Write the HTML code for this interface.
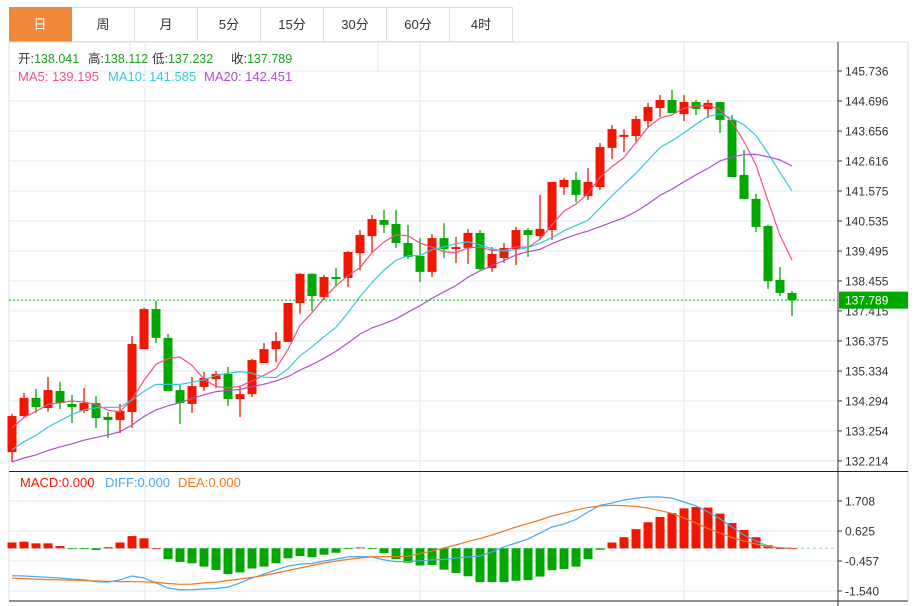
<!DOCTYPE html>
<html><head><meta charset="utf-8">
<style>
body{margin:0;background:#fff;font-family:"Liberation Sans","Noto Sans CJK SC",sans-serif;}
#wrap{position:relative;width:918px;height:606px;overflow:hidden;}
.tab{position:absolute;top:7px;height:35px;width:62px;border:1px solid #ddd;border-left:none;box-sizing:border-box;text-align:center;line-height:34px;font-size:13px;color:#333;background:#fff;}
.tab.on{background:#f0883a;color:#fff;border-color:#f0883a;}
svg{position:absolute;left:0;top:0;}
</style></head><body>
<div id="wrap">
<div class="tab on" style="left:9px;width:63px">日</div>
<div class="tab" style="left:72px;width:63px">周</div>
<div class="tab" style="left:135px;width:63px">月</div>
<div class="tab" style="left:198px;width:63px">5分</div>
<div class="tab" style="left:261px;width:63px">15分</div>
<div class="tab" style="left:324px;width:63px">30分</div>
<div class="tab" style="left:387px;width:63px">60分</div>
<div class="tab" style="left:450px;width:63px">4时</div>
<svg id="chart" width="918" height="606"></svg>
</div>
<script>
const opens=[132.52,133.77,134.40,134.05,134.64,134.19,133.95,134.22,133.74,133.63,133.91,136.09,137.48,136.48,134.67,134.19,134.78,135.05,135.23,134.36,134.53,135.61,136.09,136.34,137.69,138.70,137.90,138.59,138.56,139.42,140.01,140.57,140.43,139.77,139.32,138.77,139.94,139.56,139.60,140.12,138.90,139.25,139.56,140.22,140.01,140.22,141.71,141.96,141.40,141.71,143.07,143.45,143.48,144.00,144.45,144.73,144.24,144.66,144.42,144.66,144.04,142.13,141.30,140.36,138.49,138.04];
const highs=[133.84,134.57,134.71,135.12,134.95,134.50,134.74,134.46,133.91,134.19,136.55,137.52,137.76,136.62,134.88,135.12,135.30,135.33,135.47,134.81,135.75,136.30,136.68,137.69,138.73,138.73,138.66,138.90,139.49,140.22,140.74,140.92,140.92,140.40,139.94,140.08,140.46,139.98,140.26,140.22,139.63,139.77,140.33,140.29,141.44,141.89,142.03,142.23,142.37,143.24,143.86,143.72,144.18,144.63,144.90,145.08,144.90,144.73,144.73,144.66,144.21,143.00,141.47,140.40,138.94,138.11];
const lows=[132.18,133.74,133.88,133.91,134.01,133.53,133.88,133.36,133.01,133.18,133.36,136.09,136.30,134.64,133.49,133.88,134.64,134.74,134.12,133.74,134.43,135.61,135.64,136.34,137.31,137.41,137.79,138.25,138.25,138.83,139.46,140.12,139.60,139.22,138.42,138.59,139.25,139.08,139.04,138.83,138.77,139.08,139.01,139.29,139.88,139.88,141.44,141.19,141.26,141.61,142.68,142.93,143.27,143.76,144.14,144.28,144.00,144.21,144.11,143.59,142.06,141.30,140.15,138.18,137.93,137.23];
const closes=[133.77,134.40,134.08,134.67,134.22,134.08,134.22,133.70,133.63,133.95,136.27,137.48,136.48,134.64,134.22,134.81,135.09,135.23,134.36,134.53,135.71,136.09,136.37,137.69,138.70,137.93,138.59,138.52,139.46,140.05,140.60,140.40,139.77,139.29,138.77,139.94,139.56,139.63,140.12,138.87,139.39,139.60,140.22,140.05,140.26,141.89,141.96,141.44,141.89,143.10,143.72,143.52,144.07,144.49,144.73,144.28,144.66,144.42,144.63,144.04,142.06,141.30,140.33,138.45,138.04,137.79];
const priorCloses=[131.7,131.9,131.6,131.8,131.9,131.7,131.8,131.9,131.7,131.6,131.6,131.9,131.8,132.0,131.9,132.6,133.0,133.5,133.93];
const macdHist=[0.21,0.24,0.18,0.18,0.08,-0.01,-0.01,-0.06,0.04,0.21,0.44,0.36,0,-0.39,-0.49,-0.54,-0.66,-0.78,-0.93,-0.87,-0.73,-0.66,-0.54,-0.36,-0.28,-0.32,-0.23,-0.16,-0.03,0.03,-0.01,-0.17,-0.39,-0.52,-0.62,-0.60,-0.77,-0.89,-1.01,-1.22,-1.22,-1.22,-1.17,-1.15,-1.02,-0.79,-0.75,-0.66,-0.39,-0.05,0.21,0.40,0.69,0.94,1.13,1.27,1.44,1.49,1.47,1.25,0.91,0.66,0.40,0.11,0,0];
const diffVals=[-0.99,-1.00,-1.02,-1.05,-1.07,-1.11,-1.14,-1.20,-1.22,-1.14,-1.00,-1.07,-1.25,-1.43,-1.50,-1.49,-1.47,-1.45,-1.40,-1.25,-1.07,-0.93,-0.78,-0.64,-0.57,-0.55,-0.46,-0.39,-0.31,-0.30,-0.31,-0.42,-0.48,-0.48,-0.45,-0.42,-0.40,-0.35,-0.31,-0.28,-0.13,0.05,0.19,0.34,0.55,0.77,0.88,1.04,1.31,1.55,1.63,1.74,1.81,1.85,1.85,1.81,1.67,1.53,1.31,1.06,0.77,0.48,0.26,0.08,0.01,0];
const deaVals=[-1.08,-1.09,-1.11,-1.13,-1.14,-1.15,-1.17,-1.18,-1.19,-1.20,-1.20,-1.21,-1.23,-1.27,-1.30,-1.29,-1.25,-1.22,-1.16,-1.11,-1.05,-0.98,-0.89,-0.80,-0.71,-0.62,-0.53,-0.46,-0.40,-0.35,-0.31,-0.30,-0.30,-0.28,-0.19,-0.10,0.01,0.12,0.25,0.35,0.48,0.62,0.77,0.89,1.02,1.17,1.27,1.38,1.47,1.53,1.55,1.54,1.51,1.45,1.36,1.26,1.09,0.91,0.71,0.55,0.39,0.26,0.16,0.06,0.02,0];
const priceTicks=[145.736,144.696,143.656,142.616,141.575,140.535,139.495,138.455,137.415,136.375,135.334,134.294,133.254,132.214];
const macdTicks=[1.708,0.625,-0.457,-1.540];
const lastPrice=137.789;

const NS='http://www.w3.org/2000/svg';
const svg=document.getElementById('chart');
function mk(tag,attrs,parent){const e=document.createElementNS(NS,tag);for(const k in attrs)e.setAttribute(k,attrs[k]);(parent||svg).appendChild(e);return e;}
const xOf=i=>12+12*i;
const yP=p=>71+(145.736-p)/1.0404*30;
const yM=v=>548.3-v/0.03608;
const RED='#f21500',GREEN='#00a800';

let e;
e=mk('rect',{x:9,y:42,width:899,height:559,fill:'none',stroke:'#ddd'});


[130,378].forEach(x=>{mk('line',{x1:x,y1:42,x2:x,y2:71,stroke:'#e3e9ef'});});
[145,420,684].forEach(x=>{
 e=mk('line',{x1:x,y1:42,x2:x,y2:601,stroke:'#e3e9ef'});
 
 
});
priceTicks.forEach(t=>{
 const y=yP(t);
 e=mk('line',{x1:9,y1:y,x2:838,y2:y,stroke:'#e3e9ef'});
 
 
 mk('line',{x1:838,y1:y,x2:842,y2:y,stroke:'#333'});
 e=mk('text',{x:845,y:y+4.5,'font-size':12,fill:'#333'});
 e.textContent=t.toFixed(3);
 
 
});
macdTicks.forEach(t=>{
 const y=yM(t);
 e=mk('line',{x1:9,y1:y,x2:838,y2:y,stroke:'#e3e9ef'});
 
 
 mk('line',{x1:838,y1:y,x2:842,y2:y,stroke:'#333'});
 e=mk('text',{x:845,y:y+4.5,'font-size':12,fill:'#333'});
 e.textContent=t.toFixed(3);
 
 
});
e=mk('line',{x1:838,y1:42,x2:838,y2:606,stroke:'#333'});


e=mk('line',{x1:9,y1:471.5,x2:908,y2:471.5,stroke:'#222'});


e=mk('line',{x1:9,y1:601,x2:908,y2:601,stroke:'#222'});



opens.forEach((o,i)=>{
 const c=closes[i],up=c>=o,col=up?RED:GREEN,x=xOf(i);
 const g=mk('g',{});
 
 
 mk('line',{x1:x,y1:yP(highs[i]),x2:x,y2:yP(lows[i]),stroke:col,'stroke-width':1.3},g);
 const t=yP(Math.max(o,c)),b=yP(Math.min(o,c));
 mk('rect',{x:x-4.5,y:t,width:9,height:Math.max(1.5,b-t),fill:col},g);
});
const allC=priorCloses.concat(closes);
function ma(n){return closes.map((_,i)=>{const j=i+priorCloses.length;let s=0;for(let k=j-n+1;k<=j;k++)s+=allC[k];return s/n;});}
[[5,'#f0508a','ma5-line'],[10,'#36c8dc','ma10-line'],[20,'#b050c8','ma20-line']].forEach(([n,col,name])=>{
 const v=ma(n);
 e=mk('polyline',{points:v.map((p,i)=>xOf(i)+','+yP(p).toFixed(1)).join(' '),fill:'none',stroke:col,'stroke-width':1.2});
 
 
});
const ly=yP(lastPrice);
e=mk('line',{x1:9,y1:ly,x2:838,y2:ly,stroke:GREEN,'stroke-dasharray':'2,2','stroke-width':1});


e=mk('rect',{x:839,y:ly-8.5,width:69,height:17,fill:GREEN});


e=mk('text',{x:845,y:ly+4.5,'font-size':12,fill:'#fff'});
e.textContent=lastPrice.toFixed(3);



e=mk('line',{x1:9,y1:yM(0),x2:838,y2:yM(0),stroke:'#8cd0f0','stroke-dasharray':'3,3'});


macdHist.forEach((v,i)=>{
 const y0=yM(0),y1=yM(v),x=xOf(i);
 e=mk('rect',{x:x-4.5,y:Math.min(y0,y1),width:9,height:Math.max(0.8,Math.abs(y1-y0)),fill:v>=0?RED:GREEN});
 
 
});
e=mk('polyline',{points:diffVals.map((v,i)=>xOf(i)+','+yM(v).toFixed(1)).join(' '),fill:'none',stroke:'#4aa8f0','stroke-width':1.2});


e=mk('polyline',{points:deaVals.map((v,i)=>xOf(i)+','+yM(v).toFixed(1)).join(' '),fill:'none',stroke:'#f07820','stroke-width':1.2});



function txt(x,y,parts,name,fs){
 const t=mk('text',{x:x,y:y,'font-size':fs||13});
 
 
 parts.forEach(([s,c])=>{const sp=mk('tspan',{fill:c},t);sp.textContent=s;});
}
const G='#1aa01a',K='#333';
txt(18,63,[['开:',K],['138.041',G]],'open-legend',12.5);
txt(88,63,[['高:',K],['138.112',G]],'high-legend',12.5);
txt(152,63,[['低:',K],['137.232',G]],'low-legend',12.5);
txt(231,63,[['收:',K],['137.789',G]],'close-legend',12.5);
txt(18,81,[['MA5: 139.195','#f0508a']],'ma5-legend');
txt(108,81,[['MA10: 141.585','#36c8dc']],'ma10-legend');
txt(204,81,[['MA20: 142.451','#b050c8']],'ma20-legend');
txt(20,487,[['MACD:0.000',RED]],'macd-legend');
txt(105,487,[['DIFF:0.000','#4aa8f0']],'diff-legend');
txt(178,487,[['DEA:0.000','#f07820']],'dea-legend');
</script>
</body></html>
